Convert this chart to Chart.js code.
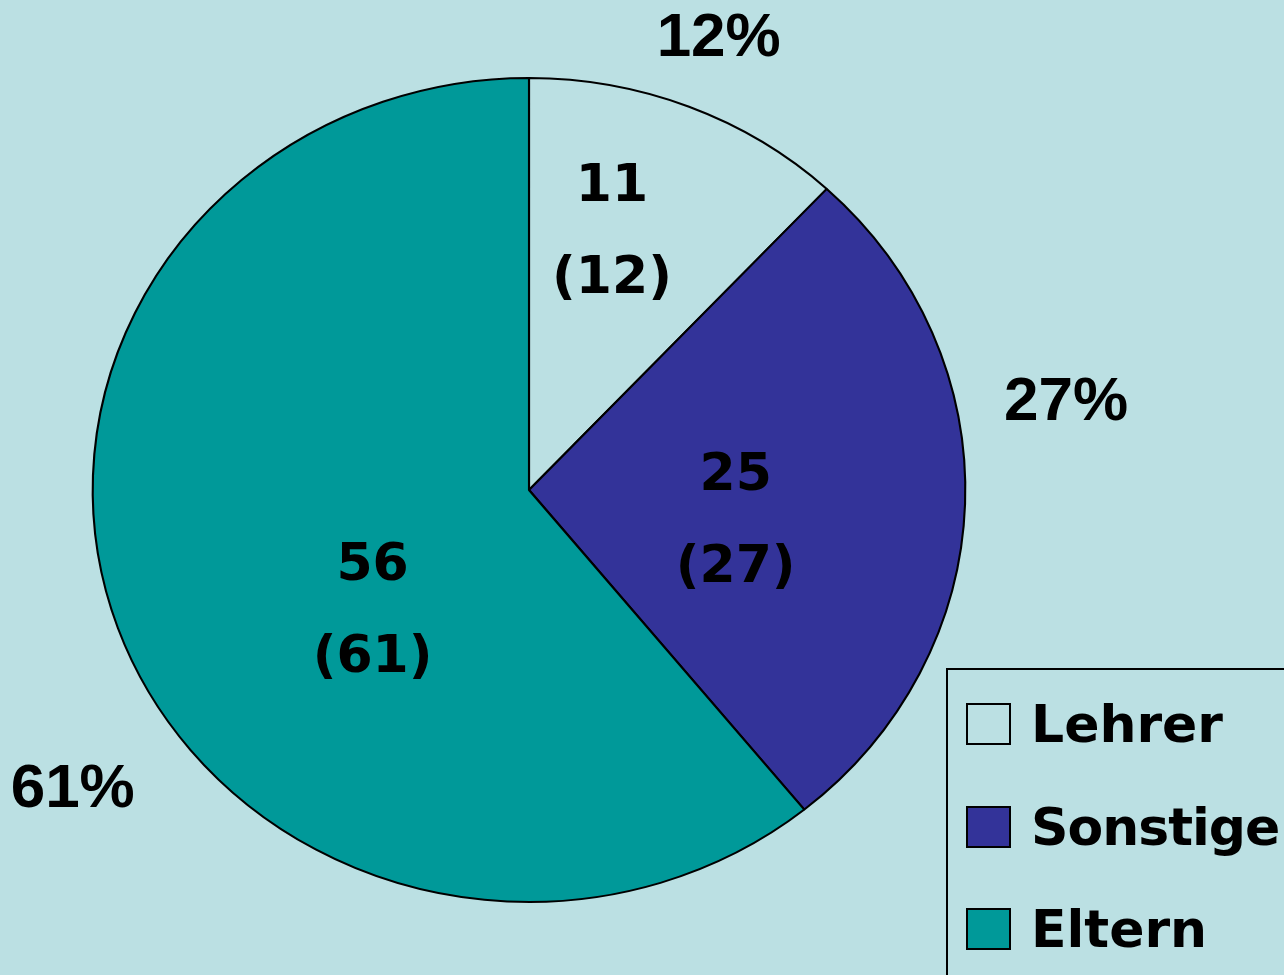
<!DOCTYPE html>
<html>
<head>
<meta charset="utf-8">
<script src="https://cdn.jsdelivr.net/npm/chart.js@4.4.1/dist/chart.umd.min.js"></script>
<style>
  html, body { margin: 0; padding: 0; background: #BBE0E3; overflow: hidden; }
  #wrap { position: relative; width: 1284px; height: 975px; }
  #legend {
    position: absolute; left: 946px; top: 668px; width: 360px; height: 330px;
    border: 2px solid #000; box-sizing: border-box;
    font-family: "DejaVu Sans", sans-serif; font-weight: bold; font-size: 52px;
  }
  .item { position: absolute; left: 18px; height: 44px; display: flex; align-items: center; white-space: nowrap; }
  .box { width: 41px; height: 38px; border: 2px solid #000; margin-right: 20px; }
</style>
</head>
<body>
<div id="wrap">
  <canvas id="pie"></canvas>
  <div id="legend"></div>
</div>
<script>
const labels = ['Lehrer', 'Sonstige', 'Eltern'];
const counts = [11, 25, 56];
const shares = [12, 27, 61];
const colors = ['#BBE0E3', '#333399', '#009999'];

// the original pie is slightly wider than tall
const stretchX = 1.059;
// label placement: radius fraction and angle nudge (degrees) per slice
const innerPos = [{ r: 0.65, da: -4.5 }, { r: 0.48, da: 7.4 }, { r: 0.465, da: -20 }];
const outerPos = [{ r: 1.185, da: 0 }, { r: 1.25, da: -12 }, { r: 1.27, da: -15 }];

const stretchPlugin = {
  id: 'stretch',
  beforeDatasetsDraw(chart) {
    const arc = chart.getDatasetMeta(0).data[0];
    const ctx = chart.ctx;
    ctx.save();
    ctx.translate(arc.x, arc.y);
    ctx.scale(stretchX, 1);
    ctx.translate(-arc.x, -arc.y);
  },
  afterDatasetsDraw(chart) {
    chart.ctx.restore();
  }
};

function polar(arc, frac, nudgeDeg) {
  const mid = (arc.startAngle + arc.endAngle) / 2 + nudgeDeg * Math.PI / 180;
  const r = arc.outerRadius * frac;
  return { x: arc.x + stretchX * r * Math.cos(mid), y: arc.y + r * Math.sin(mid) };
}

const labelPlugin = {
  id: 'sliceLabels',
  afterDraw(chart) {
    const ctx = chart.ctx;
    const arcs = chart.getDatasetMeta(0).data;
    ctx.save();
    ctx.fillStyle = '#000';
    ctx.textAlign = 'center';
    ctx.textBaseline = 'middle';
    arcs.forEach((arc, i) => {
      const p = polar(arc, innerPos[i].r, innerPos[i].da);
      ctx.font = 'bold 52px "DejaVu Sans"';
      ctx.fillText(String(counts[i]), p.x, p.y - 46);
      ctx.fillText('(' + shares[i] + ')', p.x, p.y + 46);
      const q = polar(arc, outerPos[i].r, outerPos[i].da);
      ctx.font = 'bold 62px "Liberation Sans"';
      ctx.fillText(shares[i] + '%', q.x, q.y + 3);
    });
    ctx.restore();
  }
};

new Chart(document.getElementById('pie'), {
  type: 'pie',
  data: {
    labels: labels,
    datasets: [{
      data: counts,
      backgroundColor: colors,
      borderColor: '#000',
      borderWidth: 2,
      clip: false
    }]
  },
  options: {
    responsive: true,
    maintainAspectRatio: false,
    animation: false,
    events: [],
    layout: { padding: { top: 77, bottom: 72, left: 79, right: 305 } },
    plugins: { legend: { display: false }, tooltip: { enabled: false } }
  },
  plugins: [stretchPlugin, labelPlugin]
});

// legend box at bottom right
const legend = document.getElementById('legend');
labels.forEach((name, i) => {
  const item = document.createElement('div');
  item.className = 'item';
  item.style.top = (32 + i * 102.5) + 'px';
  const box = document.createElement('div');
  box.className = 'box';
  box.style.background = colors[i];
  const txt = document.createElement('span');
  txt.textContent = name;
  if (name.length > 7) txt.style.letterSpacing = '-1px';
  item.appendChild(box);
  item.appendChild(txt);
  legend.appendChild(item);
});
</script>
</body>
</html>
